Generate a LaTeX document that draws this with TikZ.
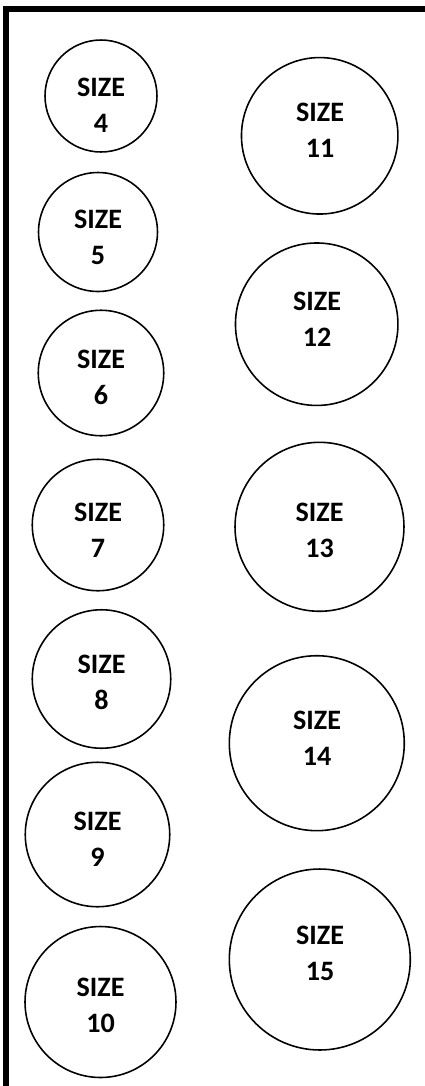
\documentclass[tikz,border=0pt]{standalone}
\usepackage{fontspec}
\setmainfont{Carlito}
\usepackage{tikz}
\usetikzlibrary{positioning, calc}

\begin{document}
\begin{tikzpicture}[
  x=0.02cm, y=-0.02cm,
  ring/.style={circle, draw=black, line width=0.9pt, inner sep=0pt},
  tag/.style={font=\fontsize{16}{20.5}\selectfont\bfseries, align=center, inner sep=0pt},
  frame/.style={line width=0.12cm, draw=black},
]
\useasboundingbox (0,0) rectangle (425,1086);

% --- Frame: left and top edge only ---
\coordinate (fb) at (6,1086);
\coordinate (fc) at (6,9);
\coordinate (fr) at (425,9);
\draw[frame] (fb) -- (fc) -- (fr);

% --- Left column: sizes 4 to 10 ---
\node[ring, minimum size=2.24cm] (c4)  at (101,96)    {};
\node[tag] (t4)  at (101,105)  {SIZE\\4};
\node[ring, minimum size=2.38cm] (c5)  at (98,232)    {};
\node[tag] (t5)  at (98,237)   {SIZE\\5};
\node[ring, minimum size=2.51cm] (c6)  at (101,373)   {};
\node[tag] (t6)  at (101,377)  {SIZE\\6};
\node[ring, minimum size=2.63cm] (c7)  at (98,525)    {};
\node[tag] (t7)  at (98,530)   {SIZE\\7};
\node[ring, minimum size=2.77cm] (c8)  at (101.5,679) {};
\node[tag] (t8)  at (101.5,682){SIZE\\8};
\node[ring, minimum size=2.89cm] (c9)  at (97.5,834.5){};
\node[tag] (t9)  at (97.5,839) {SIZE\\9};
\node[ring, minimum size=3.02cm] (c10) at (100.5,1002){};
\node[tag] (t10) at (100.5,1005){SIZE\\10};

% --- Right column: sizes 11 to 15 ---
\node[ring, minimum size=3.13cm] (c11) at (319.7,135.8){};
\node[tag] (t11) at (320,130)  {SIZE\\11};
\node[ring, minimum size=3.25cm] (c12) at (316.7,324.2){};
\node[tag] (t12) at (317,319)  {SIZE\\12};
\node[ring, minimum size=3.38cm] (c13) at (319.5,526.8){};
\node[tag] (t13) at (319.5,530){SIZE\\13};
\node[ring, minimum size=3.50cm] (c14) at (316.8,743.2){};
\node[tag] (t14) at (317,738)  {SIZE\\14};
\node[ring, minimum size=3.62cm] (c15) at (319.8,959.5){};
\node[tag] (t15) at (320,953)  {SIZE\\15};
\end{tikzpicture}
\end{document}
